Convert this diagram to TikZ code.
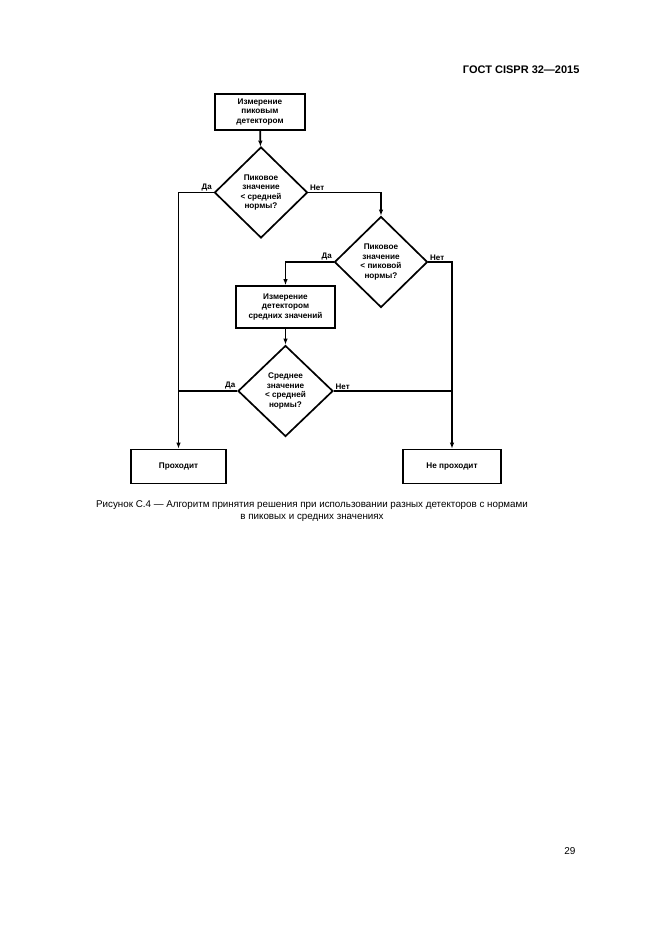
\documentclass[tikz,border=0pt]{standalone}
\usepackage{fontspec}
\setmainfont{Liberation Sans}
\usetikzlibrary{arrows.meta,shapes.geometric}

\begin{document}
\begin{tikzpicture}[
  x=1pt,
  y=-1pt,
  flowline/.style={
    line width=1.7pt,
    -{Latex[length=6pt,width=4.5pt]}
  },
  plainline/.style={
    line width=1.7pt
  },
  stepbox/.style={
    draw,
    line width=1.7pt,
    align=center,
    inner sep=0pt,
    font=\fontsize{8.2}{9.6}\selectfont\bfseries
  },
  decision/.style={
    draw,
    diamond,
    line width=1.7pt,
    align=center,
    inner sep=0pt,
    minimum width=93pt,
    minimum height=91pt,
    font=\fontsize{8.2}{9.6}\selectfont\bfseries
  },
  answer/.style={
    font=\fontsize{8}{9}\selectfont\bfseries,
    inner sep=1pt
  }
]
  \useasboundingbox (0,0) rectangle (661,935);

  % page header and number
  \node[anchor=base east,font=\fontsize{11}{13}\selectfont\bfseries] (header)
    at (583,73) {ГОСТ CISPR 32---2015};
  \node[anchor=base east,font=\fontsize{10}{12}\selectfont] (pagenum)
    at (579,854) {29};

  % flowchart
  \node[stepbox,minimum width=90pt,minimum height=36pt] (peakmeas)
    at (260,112) {Измерение\\пиковым\\детектором};
  \node[decision] (peakavg) at (261,192.5)
    {Пиковое\\значение\\< средней\\нормы?};
  \node[decision] (peakpeak) at (381,262)
    {Пиковое\\значение\\< пиковой\\нормы?};
  \node[stepbox,minimum width=99pt,minimum height=42pt] (avgmeas)
    at (285.5,307) {Измерение\\детектором\\средних значений};
  \node[decision,minimum width=95pt] (avgavg) at (285.5,391)
    {Среднее\\значение\\< средней\\нормы?};
  \node[stepbox,minimum width=95pt,minimum height=34pt] (pass)
    at (178.5,466.5) {Проходит};
  \node[stepbox,minimum width=98pt,minimum height=34pt] (fail)
    at (452,466.5) {Не проходит};

  \draw[flowline] (peakmeas) -- (peakavg);
  \draw[flowline] (peakavg.west)
    node[answer,anchor=south east] {Да}
    -| (pass.north);
  \draw[flowline] (peakavg.east)
    node[answer,anchor=south west] {Нет}
    -| (peakpeak.north);
  \draw[flowline] (peakpeak.west)
    node[answer,anchor=south east] {Да}
    -| (avgmeas.north);
  \draw[flowline] (peakpeak.east)
    node[answer,anchor=south west] {Нет}
    -| (fail.north);
  \draw[flowline] (avgmeas) -- (avgavg);
  \draw[plainline] (avgavg.west)
    node[answer,anchor=south east] {Да}
    -- (avgavg.west -| pass.north);
  \draw[plainline] (avgavg.east)
    node[answer,anchor=south west] {Нет}
    -- (avgavg.east -| fail.north);

  % caption
  \node[align=center,font=\fontsize{9.8}{12}\selectfont] (caption) at (312,511)
    {Рисунок С.4 --- Алгоритм принятия решения при использовании разных детекторов с нормами\\
     в пиковых и средних значениях};
\end{tikzpicture}
\end{document}
